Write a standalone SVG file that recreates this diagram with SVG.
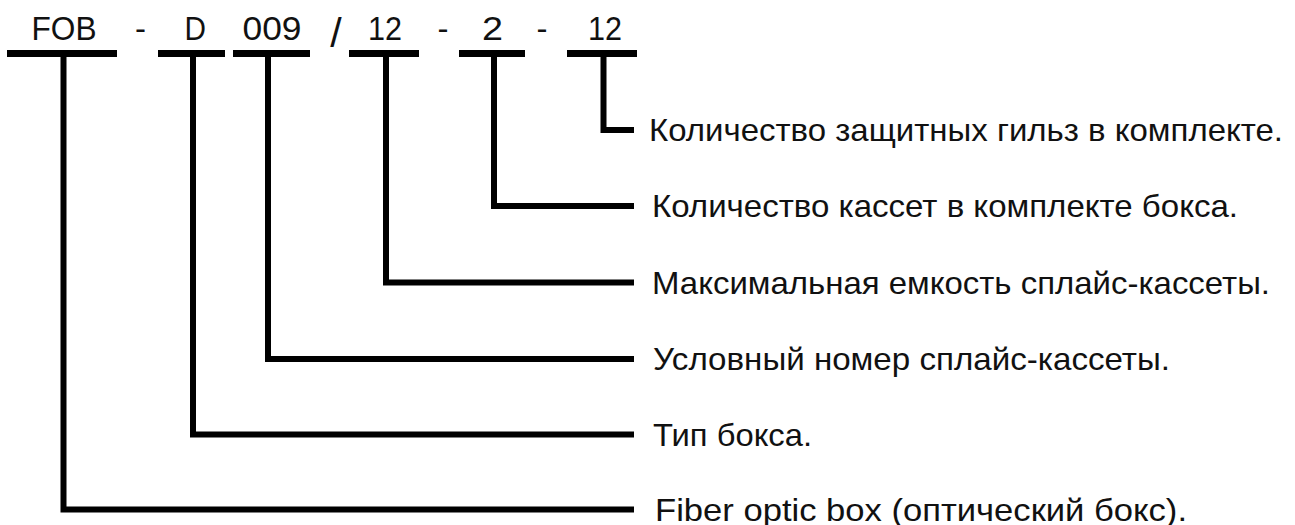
<svg xmlns="http://www.w3.org/2000/svg" width="1295" height="525" viewBox="0 0 1295 525">
<style>
.code{font-family:"Liberation Sans",Arial,sans-serif;font-size:33px;fill:#111}
.lbl{font-family:"Liberation Sans",Arial,sans-serif;font-size:32px;fill:#111}
.bar{fill:#000}
.conn{fill:none;stroke:#000;stroke-width:6;stroke-linejoin:miter;stroke-linecap:butt}
</style>
<rect width="1295" height="525" fill="#fff"/>
<g id="code">
  <g id="seg-fob"><text class="code" x="31.5" y="40" textLength="65" lengthAdjust="spacingAndGlyphs">FOB</text><rect class="bar" x="7" y="50" width="110" height="7"/></g>
  <text class="code" x="140.5" y="40" text-anchor="middle">-</text>
  <g id="seg-d"><text class="code" x="184.5" y="40" textLength="21.5" lengthAdjust="spacingAndGlyphs">D</text><rect class="bar" x="158" y="50" width="67" height="7"/></g>
  <g id="seg-009"><text class="code" x="242.5" y="40" textLength="59" lengthAdjust="spacingAndGlyphs">009</text><rect class="bar" x="233" y="50" width="77" height="7"/></g>
  <text class="code" x="336" y="47" text-anchor="middle" style="font-size:41px">/</text>
  <g id="seg-12a"><text class="code" x="368" y="40" textLength="34" lengthAdjust="spacingAndGlyphs">12</text><rect class="bar" x="349" y="50" width="70" height="7"/></g>
  <text class="code" x="443" y="40" text-anchor="middle">-</text>
  <g id="seg-2"><text class="code" x="482" y="40" textLength="21" lengthAdjust="spacingAndGlyphs">2</text><rect class="bar" x="459" y="50" width="66" height="7"/></g>
  <text class="code" x="542" y="40" text-anchor="middle">-</text>
  <g id="seg-12b"><text class="code" x="588" y="40" textLength="34" lengthAdjust="spacingAndGlyphs">12</text><rect class="bar" x="567" y="50" width="70" height="7"/></g>
</g>
<g id="connectors">
  <path class="conn" d="M603.5 57 V130 H634"/>
  <path class="conn" d="M494 57 V206 H634"/>
  <path class="conn" d="M386 57 V282.5 H634"/>
  <path class="conn" d="M268 57 V359 H634"/>
  <path class="conn" d="M193 57 V434.5 H634"/>
  <path class="conn" d="M63.5 57 V509.5 H634"/>
</g>
<g id="label-sleeves"><text class="lbl" x="649" y="141" textLength="634" lengthAdjust="spacingAndGlyphs">Количество защитных гильз в комплекте.</text></g>
<g id="label-cassettes"><text class="lbl" x="652" y="217" textLength="586" lengthAdjust="spacingAndGlyphs">Количество кассет в комплекте бокса.</text></g>
<g id="label-capacity"><text class="lbl" x="652" y="293.5" textLength="618" lengthAdjust="spacingAndGlyphs">Максимальная емкость сплайс-кассеты.</text></g>
<g id="label-number"><text class="lbl" x="653" y="370" textLength="517" lengthAdjust="spacingAndGlyphs">Условный номер сплайс-кассеты.</text></g>
<g id="label-type"><text class="lbl" x="653" y="445.5" textLength="159" lengthAdjust="spacingAndGlyphs">Тип бокса.</text></g>
<g id="label-fob"><text class="lbl" x="655" y="520.5" textLength="532" lengthAdjust="spacingAndGlyphs">Fiber optic box (оптический бокс).</text></g>
</svg>
